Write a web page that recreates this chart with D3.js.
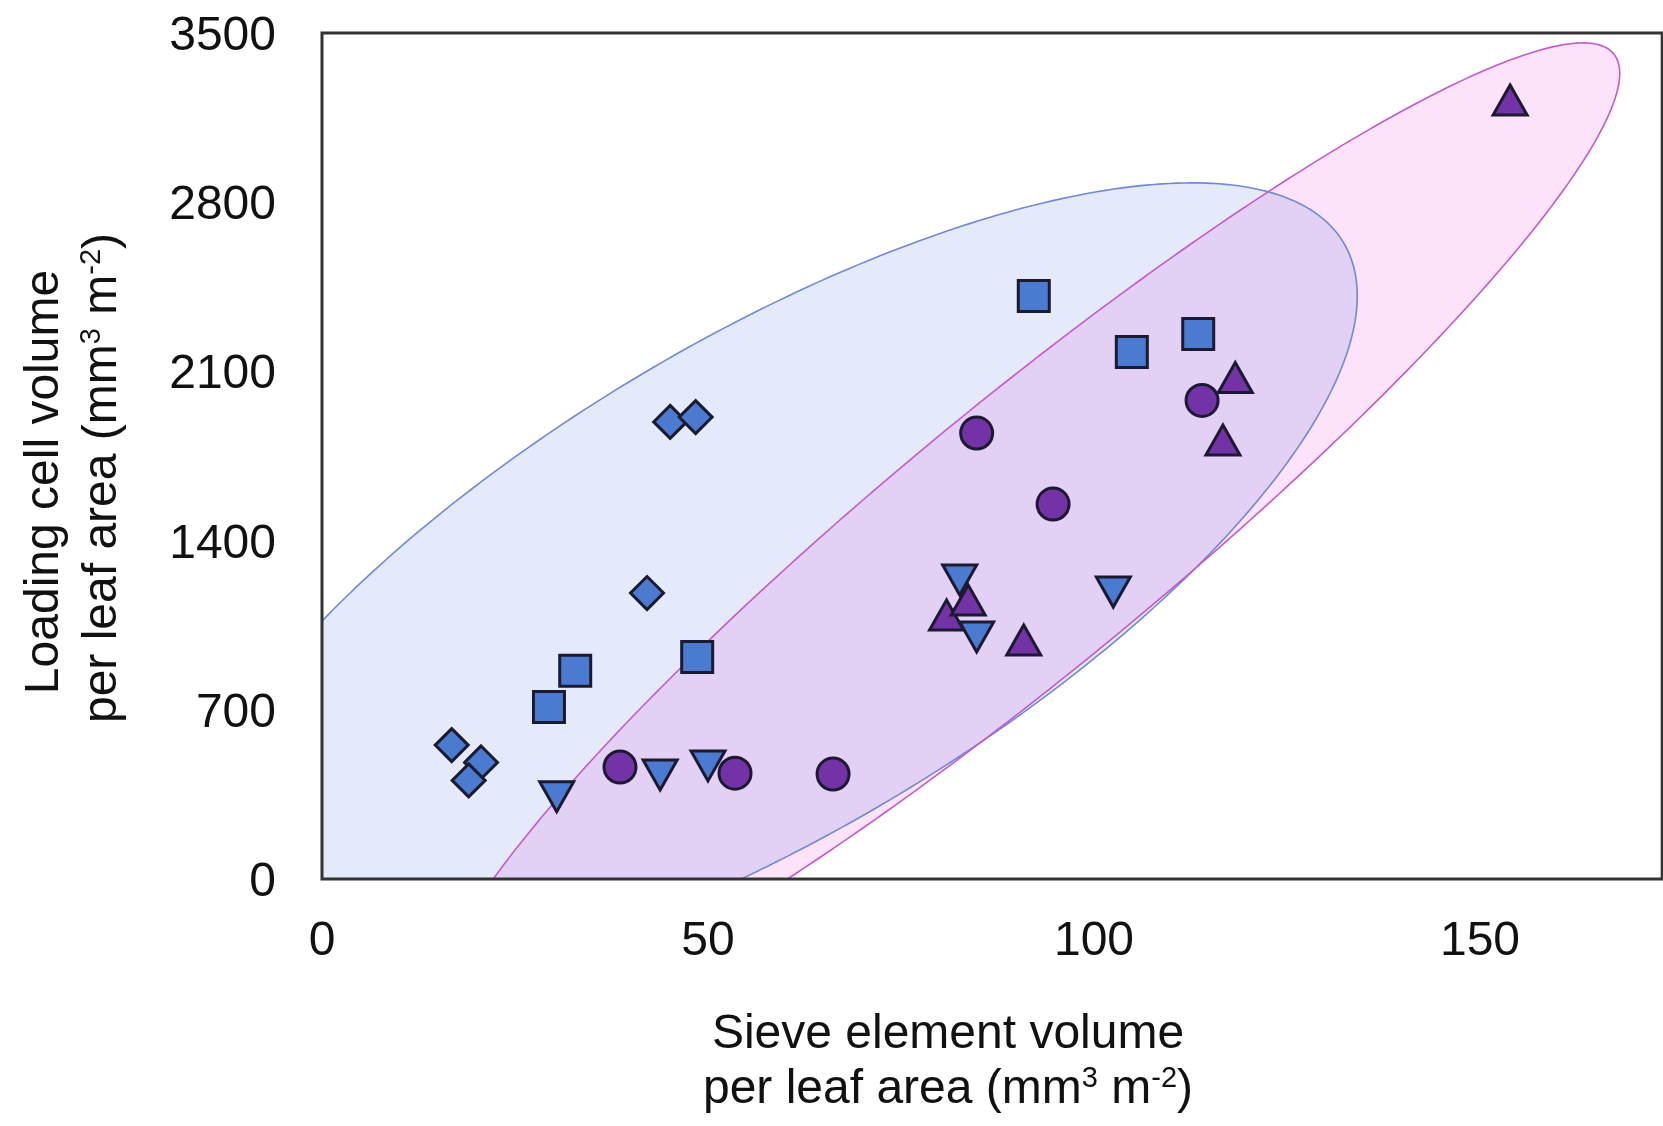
<!DOCTYPE html>
<html>
<head>
<meta charset="utf-8">
<script src="https://cdn.jsdelivr.net/npm/d3@7"></script>
<style>
    body { margin: 0; background: #fff; }
    svg { display: block; }
    text { font-family: "Liberation Sans", Arial, Helvetica, sans-serif; fill: #111; }
</style>
</head>
<body>
<svg></svg>
<script>
/**
 * Data.
 */
const xTicks = [0, 50, 100, 150];
const yTicks = [0, 700, 1400, 2100, 2800, 3500];
const xMax = 173.6;
const yMax = 3500;

// blue group
const blueDiamonds = [[16.8, 554], [20.6, 482], [19.0, 408], [42.1, 1183], [45.1, 1891], [48.4, 1911]];
const blueSquares = [[29.4, 712], [32.8, 862], [48.6, 918], [92.2, 2412], [104.9, 2180], [113.5, 2255]];
const blueDownTriangles = [[30.4, 340], [43.8, 430], [50.0, 468], [82.6, 1237], [84.8, 1001], [102.5, 1187]];

// purple group
const purpleCircles = [[38.6, 463], [53.5, 438], [66.2, 434], [84.8, 1845], [94.7, 1551], [114.0, 1980]];
const purpleTriangles = [[80.9, 1092], [83.7, 1154], [90.9, 989], [116.7, 1816], [118.3, 2075], [153.9, 3223]];

// confidence ellipses: [mean x, mean y, half width x, half height y, correlation]
const blueEllipse = [57.6, 1210, 76.5, 1670, 0.72];
const purpleEllipse = [91.4, 1421, 76.7, 2038, 0.938];

/**
 * Set stuff up.
 */
const width = 1663;
const height = 1126;
const svg = d3.select('svg')
    .attr('width', width)
    .attr('height', height);

const x = d3.scaleLinear().domain([0, 150]).range([322, 1480]);
const y = d3.scaleLinear().domain([0, yMax]).range([879, 33]);

svg.append('defs')
    .append('clipPath')
    .attr('id', 'plot')
    .append('rect')
    .attr('x', x(0))
    .attr('y', y(yMax))
    .attr('width', x(xMax) - x(0))
    .attr('height', y(0) - y(yMax));

/**
 * Ellipses.
 */
function ellipsePoints(e) {
    const [mx, my, a, b, r] = e;
    return d3.range(0, 361, 1).map(function (deg) {
        const t = deg * Math.PI / 180;
        return [mx + a * Math.cos(t), my + b * (r * Math.cos(t) + Math.sqrt(1 - r * r) * Math.sin(t))];
    });
}

const line = d3.line()
    .x(d => x(d[0]))
    .y(d => y(d[1]))
    .curve(d3.curveLinearClosed);

const eg = svg.append('g').attr('clip-path', 'url(#plot)');

eg.append('path')
    .attr('d', line(ellipsePoints(blueEllipse)))
    .attr('fill', '#e5eafb')
    .style('mix-blend-mode', 'multiply');

eg.append('path')
    .attr('d', line(ellipsePoints(purpleEllipse)))
    .attr('fill', '#fce3f9')
    .style('mix-blend-mode', 'multiply');

eg.append('path')
    .attr('d', line(ellipsePoints(blueEllipse)))
    .attr('fill', 'none')
    .attr('stroke', '#7188d6')
    .attr('stroke-width', 1.6);

eg.append('path')
    .attr('d', line(ellipsePoints(purpleEllipse)))
    .attr('fill', 'none')
    .attr('stroke', '#c25acc')
    .attr('stroke-width', 1.6);

/**
 * Frame.
 */
svg.append('rect')
    .attr('x', x(0))
    .attr('y', y(yMax))
    .attr('width', x(xMax) - x(0))
    .attr('height', y(0) - y(yMax))
    .attr('fill', 'none')
    .attr('stroke', '#333')
    .attr('stroke-width', 3);

/**
 * Markers.
 */
const blue = '#4a7bd0';
const purple = '#7332a6';
const edge = '#1c1a30';

const shapes = {
    square: function () {
        const h = 15.5;
        return `M${-h},${-h}H${h}V${h}H${-h}Z`;
    },
    diamond: function () {
        const h = 16.5;
        return `M0,${-h}L${h},0L0,${h}L${-h},0Z`;
    },
    circle: function () {
        const r = 16;
        return `M${r},0A${r},${r} 0 1,1 ${-r},0A${r},${r} 0 1,1 ${r},0Z`;
    },
    up: function () {
        return 'M0,-15L17,15L-17,15Z';
    },
    down: function () {
        return 'M0,15L17,-15L-17,-15Z';
    }
};

const series = [
    { data: blueDiamonds, shape: 'diamond', color: blue },
    { data: blueSquares, shape: 'square', color: blue },
    { data: blueDownTriangles, shape: 'down', color: blue },
    { data: purpleCircles, shape: 'circle', color: purple },
    { data: purpleTriangles, shape: 'up', color: purple }
];

series.forEach(function (s) {
    svg.append('g')
        .selectAll('path')
        .data(s.data)
        .enter()
        .append('path')
        .attr('d', shapes[s.shape]())
        .attr('transform', d => `translate(${x(d[0])},${y(d[1])})`)
        .attr('fill', s.color)
        .attr('stroke', edge)
        .attr('stroke-width', 3)
        .attr('stroke-linejoin', 'miter');
});

/**
 * Axes labels.
 */
svg.append('g')
    .selectAll('text')
    .data(yTicks)
    .enter()
    .append('text')
    .attr('x', 276)
    .attr('y', d => y(d) + 17)
    .attr('text-anchor', 'end')
    .style('font-size', '48px')
    .text(d => d);

svg.append('g')
    .selectAll('text')
    .data(xTicks)
    .enter()
    .append('text')
    .attr('x', d => x(d))
    .attr('y', 955)
    .attr('text-anchor', 'middle')
    .style('font-size', '48px')
    .text(d => d);

function unitLabel(sel) {
    sel.append('tspan').text('per leaf area (mm');
    sel.append('tspan').attr('dy', -16).style('font-size', '29px').text('3');
    sel.append('tspan').attr('dy', 16).text(' m');
    sel.append('tspan').attr('dy', -16).style('font-size', '29px').text('-2');
    sel.append('tspan').attr('dy', 16).text(')');
}

svg.append('text')
    .attr('x', 948)
    .attr('y', 1048)
    .attr('text-anchor', 'middle')
    .style('font-size', '48px')
    .text('Sieve element volume');

svg.append('text')
    .attr('x', 948)
    .attr('y', 1103)
    .attr('text-anchor', 'middle')
    .style('font-size', '48px')
    .call(unitLabel);

svg.append('text')
    .attr('transform', 'translate(58,482) rotate(-90)')
    .attr('text-anchor', 'middle')
    .style('font-size', '48px')
    .text('Loading cell volume');

svg.append('text')
    .attr('transform', 'translate(116,478) rotate(-90)')
    .attr('text-anchor', 'middle')
    .style('font-size', '48px')
    .call(unitLabel);
</script>
</body>
</html>
